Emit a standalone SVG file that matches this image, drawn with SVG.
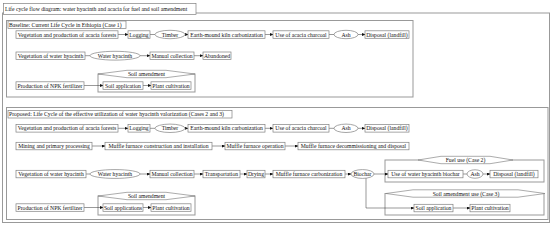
<svg xmlns="http://www.w3.org/2000/svg" width="550" height="226" viewBox="0 0 550 226">
<defs>
<marker id="ah" markerUnits="userSpaceOnUse" markerWidth="3.5" markerHeight="3" refX="3.2" refY="1.5" orient="auto">
<path d="M0,0 L3.5,1.5 L0,3 z" fill="#111"/>
</marker>
<style>
.t{font-family:"Liberation Serif","Times New Roman",serif;font-size:5.7px;fill:#111;text-anchor:middle}
.tl{font-family:"Liberation Serif","Times New Roman",serif;font-size:5.7px;fill:#111}
.b{fill:#fff;stroke:#808080;stroke-width:0.7}
.f{fill:none;stroke:#999;stroke-width:1}
.h{fill:#fff;stroke:#888;stroke-width:0.7}
.c{fill:none;stroke:#333;stroke-width:0.5}
.a{fill:none;stroke:#333;stroke-width:0.5;marker-end:url(#ah)}
</style>
</defs>
<rect width="550" height="226" fill="#fff"/>
<!-- outer frame -->
<rect class="f" x="2.5" y="13" width="547" height="209.5"/>
<g id="title"><rect class="b" x="3.5" y="3.5" width="192.5" height="11"/><text class="tl" x="5" y="11">Life cycle flow diagram: water hyacinth and acacia for fuel and soil amendment</text></g>

<!-- frames -->
<rect class="f" x="6.5" y="20.5" width="406.5" height="76.5"/>
<rect class="f" x="6.5" y="107.5" width="541.5" height="112"/>
<rect class="f" x="98" y="74" width="97" height="18"/>
<rect class="f" x="98" y="196" width="97" height="19"/>
<rect class="f" x="385" y="160" width="159" height="22"/>
<rect class="f" x="385" y="193.5" width="159" height="21.5"/>

<g id="connectors">
<!-- baseline row1 -->
<line class="a" x1="118" y1="34.5" x2="128" y2="34.5"/>
<line class="c" x1="150" y1="34.5" x2="155" y2="34.5"/>
<line class="a" x1="185" y1="34.5" x2="188" y2="34.5"/>
<line class="a" x1="265" y1="34.5" x2="273" y2="34.5"/>
<line class="c" x1="329" y1="34.5" x2="334" y2="34.5"/>
<line class="a" x1="358" y1="34.5" x2="365" y2="34.5"/>
<!-- baseline row2 -->
<line class="c" x1="85" y1="55.7" x2="90" y2="55.7"/>
<line class="a" x1="140" y1="55.7" x2="150" y2="55.7"/>
<line class="a" x1="194" y1="55.7" x2="203" y2="55.7"/>
<!-- baseline row3 -->
<line class="a" x1="84" y1="85.5" x2="103" y2="85.5"/>
<line class="a" x1="143" y1="85.5" x2="151" y2="85.5"/>
<!-- proposed row1 -->
<line class="a" x1="118" y1="128.3" x2="128" y2="128.3"/>
<line class="c" x1="150" y1="128.3" x2="155" y2="128.3"/>
<line class="a" x1="185" y1="128.3" x2="188" y2="128.3"/>
<line class="a" x1="265" y1="128.3" x2="273" y2="128.3"/>
<line class="c" x1="329" y1="128.3" x2="334" y2="128.3"/>
<line class="a" x1="358" y1="128.3" x2="365" y2="128.3"/>
<!-- proposed row2 -->
<line class="a" x1="92" y1="146" x2="105" y2="146"/>
<line class="a" x1="212" y1="146" x2="225" y2="146"/>
<line class="a" x1="285" y1="146" x2="298" y2="146"/>
<!-- proposed row3 -->
<line class="c" x1="86" y1="174" x2="90" y2="174"/>
<line class="a" x1="140" y1="174" x2="150" y2="174"/>
<line class="a" x1="194" y1="174" x2="203" y2="174"/>
<line class="a" x1="240" y1="174" x2="247" y2="174"/>
<line class="a" x1="265" y1="174" x2="273" y2="174"/>
<line class="a" x1="345" y1="174" x2="351" y2="174"/>
<line class="a" x1="374" y1="174" x2="388" y2="174"/>
<line class="c" x1="463" y1="174" x2="467" y2="174"/>
<line class="a" x1="483" y1="174" x2="490" y2="174"/>
<polyline class="a" points="366,178 366,208 414,208"/>
<!-- proposed row4 -->
<line class="a" x1="84" y1="207.5" x2="103" y2="207.5"/>
<line class="a" x1="143" y1="207.5" x2="151" y2="207.5"/>
<line class="a" x1="453" y1="208" x2="470" y2="208"/>
</g>

<!-- hexagon labels -->
<g id="soil-amendment-1"><polygon class="h" points="98,74 127,70.3 166,70.3 195,74 166,77.7 127,77.7"/><text class="t" x="146.5" y="76">Soil amendment</text></g>
<g id="soil-amendment-2"><polygon class="h" points="98,196 127,192.3 166,192.3 195,196 166,199.7 127,199.7"/><text class="t" x="146.5" y="198">Soil amendment</text></g>
<g id="fuel-use"><polygon class="h" points="418,160 441,156.3 490,156.3 513,160 490,163.7 441,163.7"/><text class="t" x="465.5" y="162">Fuel use (Case 2)</text></g>
<g id="soil-use"><polygon class="h" points="386,193.5 413,189.8 518,189.8 545,193.5 518,197.2 413,197.2"/><text class="t" x="466" y="195.5">Soil amendment use (Case 3)</text></g>

<!-- baseline -->
<g id="baseline-label"><rect class="b" x="8" y="21" width="118" height="7.5"/><text class="tl" x="9" y="26.8">Baseline: Current Life Cycle in Ethiopia (Case 1)</text></g>
<g id="b-acacia"><rect class="b" x="16" y="30.8" width="102" height="7.5"/><text class="t" x="67" y="36.5">Vegetation and production of acacia forests</text></g>
<g id="b-logging"><rect class="b" x="128" y="30.8" width="22" height="7.5"/><text class="t" x="139" y="36.5">Logging</text></g>
<g id="b-timber"><ellipse class="b" cx="170" cy="34.5" rx="15" ry="4.2"/><text class="t" x="170" y="36.5">Timber</text></g>
<g id="b-kiln"><rect class="b" x="188" y="30.8" width="77" height="7.5"/><text class="t" x="226.5" y="36.5">Earth-mound kiln carbonization</text></g>
<g id="b-charcoal"><rect class="b" x="273" y="30.8" width="56" height="7.5"/><text class="t" x="301" y="36.5">Use of acacia charcoal</text></g>
<g id="b-ash"><ellipse class="b" cx="346" cy="34.5" rx="12" ry="4.2"/><text class="t" x="346" y="36.5">Ash</text></g>
<g id="b-disposal"><rect class="b" x="365" y="30.8" width="44" height="7.5"/><text class="t" x="387" y="36.5">Disposal (landfill)</text></g>
<g id="b-vegwh"><rect class="b" x="16" y="52" width="69" height="7.5"/><text class="t" x="50.5" y="57.7">Vegetation of water hyacinth</text></g>
<g id="b-wh"><ellipse class="b" cx="115" cy="55.7" rx="25" ry="4.4"/><text class="t" x="115" y="57.7">Water hyacinth</text></g>
<g id="b-manual"><rect class="b" x="150" y="52" width="44" height="7.5"/><text class="t" x="172" y="57.7">Manual collection</text></g>
<g id="b-abandoned"><rect class="b" x="203" y="52" width="28" height="7.5"/><text class="t" x="217" y="57.7">Abandoned</text></g>
<g id="b-npk"><rect class="b" x="16" y="81.8" width="68" height="7.5"/><text class="t" x="50" y="87.5">Production of NPK fertilizer</text></g>
<g id="b-soilapp"><rect class="b" x="103" y="81.8" width="40" height="7.5"/><text class="t" x="123" y="87.5">Soil application</text></g>
<g id="b-plant"><rect class="b" x="151" y="81.8" width="40" height="7.5"/><text class="t" x="171" y="87.5">Plant cultivation</text></g>

<!-- proposed -->
<g id="proposed-label"><rect class="b" x="8" y="110.5" width="224" height="7.5"/><text class="tl" x="9" y="116.3">Proposed: Life Cycle of the effective utilization of water hyacinth valorization (Cases 2 and 3)</text></g>
<g id="p-acacia"><rect class="b" x="16" y="124.6" width="102" height="7.5"/><text class="t" x="67" y="130.3">Vegetation and production of acacia forests</text></g>
<g id="p-logging"><rect class="b" x="128" y="124.6" width="22" height="7.5"/><text class="t" x="139" y="130.3">Logging</text></g>
<g id="p-timber"><ellipse class="b" cx="170" cy="128.3" rx="15" ry="4.2"/><text class="t" x="170" y="130.3">Timber</text></g>
<g id="p-kiln"><rect class="b" x="188" y="124.6" width="77" height="7.5"/><text class="t" x="226.5" y="130.3">Earth-mound kiln carbonization</text></g>
<g id="p-charcoal"><rect class="b" x="273" y="124.6" width="56" height="7.5"/><text class="t" x="301" y="130.3">Use of acacia charcoal</text></g>
<g id="p-ash"><ellipse class="b" cx="346" cy="128.3" rx="12" ry="4.2"/><text class="t" x="346" y="130.3">Ash</text></g>
<g id="p-disposal"><rect class="b" x="365" y="124.6" width="44" height="7.5"/><text class="t" x="387" y="130.3">Disposal (landfill)</text></g>
<g id="p-mining"><rect class="b" x="16" y="142.3" width="76" height="7.5"/><text class="t" x="54" y="148">Mining and primary processing</text></g>
<g id="p-construct"><rect class="b" x="105" y="142.3" width="107" height="7.5"/><text class="t" x="158.5" y="148">Muffle furnace construction and installation</text></g>
<g id="p-operation"><rect class="b" x="225" y="142.3" width="60" height="7.5"/><text class="t" x="255" y="148">Muffle furnace operation</text></g>
<g id="p-decom"><rect class="b" x="298" y="142.3" width="111" height="7.5"/><text class="t" x="353.5" y="148">Muffle furnace decommissioning and disposal</text></g>
<g id="p-vegwh"><rect class="b" x="16" y="170.3" width="70" height="7.5"/><text class="t" x="51" y="176">Vegetation of water hyacinth</text></g>
<g id="p-wh"><ellipse class="b" cx="115" cy="174" rx="25" ry="4.4"/><text class="t" x="115" y="176">Water hyacinth</text></g>
<g id="p-manual"><rect class="b" x="150" y="170.3" width="44" height="7.5"/><text class="t" x="172" y="176">Manual collection</text></g>
<g id="p-transport"><rect class="b" x="203" y="170.3" width="37" height="7.5"/><text class="t" x="221.5" y="176">Transportation</text></g>
<g id="p-drying"><rect class="b" x="247" y="170.3" width="18" height="7.5"/><text class="t" x="256" y="176">Drying</text></g>
<g id="p-muffle"><rect class="b" x="273" y="170.3" width="72" height="7.5"/><text class="t" x="309" y="176">Muffle furnace carbonization</text></g>
<g id="p-biochar"><ellipse class="b" cx="362.5" cy="174" rx="11.5" ry="4.4"/><text class="t" x="362.5" y="176">Biochar</text></g>
<g id="p-usebiochar"><rect class="b" x="388" y="170.3" width="75" height="7.5"/><text class="t" x="425.5" y="176">Use of water hyacinth biochar</text></g>
<g id="p-ash2"><ellipse class="b" cx="475" cy="174" rx="8" ry="4.2"/><text class="t" x="475" y="176">Ash</text></g>
<g id="p-disposal2"><rect class="b" x="490" y="170.3" width="48" height="7.5"/><text class="t" x="514" y="176">Disposal (landfill)</text></g>
<g id="p-npk"><rect class="b" x="16" y="203.8" width="68" height="7.5"/><text class="t" x="50" y="209.5">Production of NPK fertilizer</text></g>
<g id="p-soilapps"><rect class="b" x="103" y="203.8" width="40" height="7.5"/><text class="t" x="123" y="209.5">Soil applications</text></g>
<g id="p-plant"><rect class="b" x="151" y="203.8" width="40" height="7.5"/><text class="t" x="171" y="209.5">Plant cultivation</text></g>
<g id="p-soilapp3"><rect class="b" x="414" y="204.3" width="39" height="7.5"/><text class="t" x="433.5" y="210">Soil application</text></g>
<g id="p-plant3"><rect class="b" x="470" y="204.3" width="40" height="7.5"/><text class="t" x="490" y="210">Plant cultivation</text></g>
</svg>
